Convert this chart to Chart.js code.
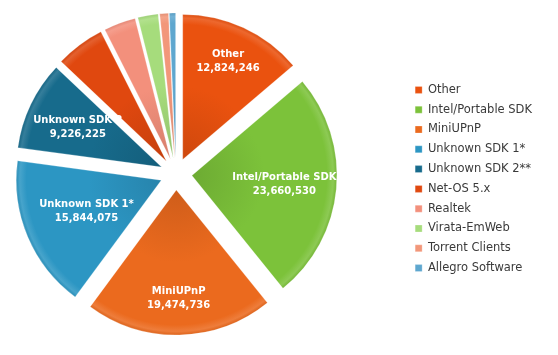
<!DOCTYPE html>
<html>
<head>
<meta charset="utf-8">
<script src="https://cdn.jsdelivr.net/npm/chart.js@4/dist/chart.umd.min.js"></script>
<style>
  html, body { margin: 0; padding: 0; background: #ffffff; }
  #wrap { width: 558px; height: 355px; position: relative; }
</style>
</head>
<body>
<div id="wrap"><canvas id="c" width="558" height="355"></canvas></div>
<script>
// ---- data ----
const categories = [
  'Other', 'Intel/Portable SDK', 'MiniUPnP', 'Unknown SDK 1*', 'Unknown SDK 2**',
  'Net-OS 5.x', 'Realtek', 'Virata-EmWeb', 'Torrent Clients', 'Allegro Software'
];
const values = [
  12824246, 23660530, 19474736, 15844075, 9226225,
  5100000, 3300000, 2100000, 900000, 650000
];
// in-slice label names (only the five largest are labelled)
const sliceLabels = ['Other', 'Intel/Portable SDK', 'MiniUPnP', 'Unknown SDK 1*', 'Unknown SDK 2'];

// ---- styles ----
const colors = [
  '#EA520F', '#7CC23A', '#EB6A1E', '#2C96C3', '#176B8C',
  '#E0480F', '#F3907C', '#A6DC7C', '#F2977A', '#5EA7CF'
];
const labelRadius = [0.745, 0.64, 0.745, 0.56, 0.64];
const OFFSET = 16;
const RADIUS = 145;

function shade(hex, amt) {
  const n = parseInt(hex.slice(1), 16);
  let r = (n >> 16) & 255, g = (n >> 8) & 255, b = n & 255;
  const f = c => amt >= 0 ? Math.round(c + (255 - c) * amt) : Math.round(c * (1 + amt));
  return `rgb(${f(r)},${f(g)},${f(b)})`;
}

const placePie = {
  id: 'placePie',
  afterLayout(chart) {
    chart.chartArea = { left: 0, top: 0, right: 352, bottom: 348, width: 352, height: 348 };
  }
};

// explode every slice outward along its bisector and give it a soft glossy fill
const explode = {
  id: 'explode',
  beforeDatasetsDraw(chart) {
    const meta = chart.getDatasetMeta(0);
    const a = chart.chartArea;
    const cx = (a.left + a.right) / 2, cy = (a.top + a.bottom) / 2;
    meta.data.forEach((arc, i) => {
      const mid = (arc.startAngle + arc.endAngle) / 2;
      arc.x = cx + Math.cos(mid) * OFFSET;
      arc.y = cy + Math.sin(mid) * OFFSET;
      const R = arc.outerRadius;
      const g = chart.ctx.createRadialGradient(arc.x, arc.y, 0, arc.x, arc.y, R);
      const base = colors[i];
      g.addColorStop(0, shade(base, -0.12));
      g.addColorStop(0.5, base);
      g.addColorStop(0.93, base);
      g.addColorStop(0.975, shade(base, 0.13));
      g.addColorStop(1, shade(base, -0.06));
      arc.options = Object.assign({}, arc.options, { backgroundColor: g });
    });
  }
};

const sliceText = {
  id: 'sliceText',
  afterDatasetsDraw(chart) {
    const ctx = chart.ctx;
    const meta = chart.getDatasetMeta(0);
    ctx.save();
    ctx.fillStyle = '#ffffff';
    ctx.font = 'bold 10px "DejaVu Sans"';
    ctx.textAlign = 'center';
    ctx.textBaseline = 'middle';
    sliceLabels.forEach((name, i) => {
      const arc = meta.data[i];
      const mid = (arc.startAngle + arc.endAngle) / 2;
      const r = arc.outerRadius * labelRadius[i];
      const x = arc.x + Math.cos(mid) * r;
      const y = arc.y + Math.sin(mid) * r;
      ctx.fillText(name, x, y - 7);
      ctx.fillText(values[i].toLocaleString('en-US'), x, y + 7);
    });
    ctx.restore();
  }
};

new Chart(document.getElementById('c'), {
  type: 'pie',
  data: {
    labels: categories,
    datasets: [{
      data: values,
      backgroundColor: colors,
      borderColor: 'rgba(255,255,255,0.5)',
      borderWidth: 0.5
    }]
  },
  options: {
    responsive: false,
    animation: false,
    radius: RADIUS,
    layout: { padding: { right: 16, top: 3, bottom: 0 } },
    plugins: {
      tooltip: { enabled: false },
      legend: {
        position: 'right',
        align: 'center',
        labels: {
          boxWidth: 7,
          boxHeight: 7,
          padding: 8.3,
          color: '#3a3a3a',
          font: { family: '"DejaVu Sans"', size: 11.5 }
        }
      }
    }
  },
  plugins: [placePie, explode, sliceText]
});
</script>
</body>
</html>
